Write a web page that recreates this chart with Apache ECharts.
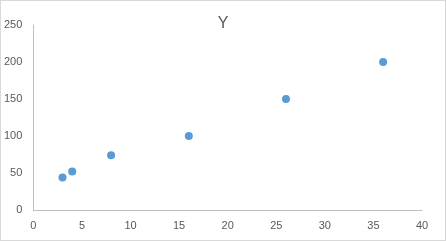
<!DOCTYPE html>
<html><head><meta charset="utf-8">
<script src="https://cdn.jsdelivr.net/npm/echarts@6/dist/echarts.min.js"></script>
<style>html,body{margin:0;padding:0;background:#fff}#c{width:446px;height:241px;box-sizing:border-box;border:1px solid #d9d9d9}</style>
</head><body><div id="c"></div>
<script>
const xValues = [3, 4, 8, 16, 26, 36];
const yValues = [44, 52, 74, 100, 150, 200];
const titleText = 'Y';
const chart = echarts.init(document.getElementById('c'));
chart.setOption({
  animation: false,
  title: {text: titleText, left: 'center', top: 10, textStyle: {fontFamily: 'Liberation Sans', fontSize: 16, fontWeight: 'normal', color: '#595959'}},
  grid: {left: 30, right: 23, top: 24, bottom: 30, containLabel: false},
  xAxis: {type: 'value', min: 0, max: 40, interval: 5,
    axisLine: {show: true, lineStyle: {color: '#bfbfbf'}}, axisTick: {show: false},
    splitLine: {show: false},
    axisLabel: {color: '#595959', fontFamily: 'Liberation Sans', fontSize: 11, margin: 10}},
  yAxis: {type: 'value', min: 0, max: 250, interval: 50,
    axisLine: {show: true, lineStyle: {color: '#bfbfbf'}}, axisTick: {show: false},
    splitLine: {show: false},
    axisLabel: {color: '#595959', fontFamily: 'Liberation Sans', fontSize: 11, margin: 11}},
  series: [{type: 'scatter', symbolSize: 8, itemStyle: {color: '#5b9bd5', opacity: 1},
    data: xValues.map((x, i) => [x, yValues[i]])}]
});
</script></body></html>
